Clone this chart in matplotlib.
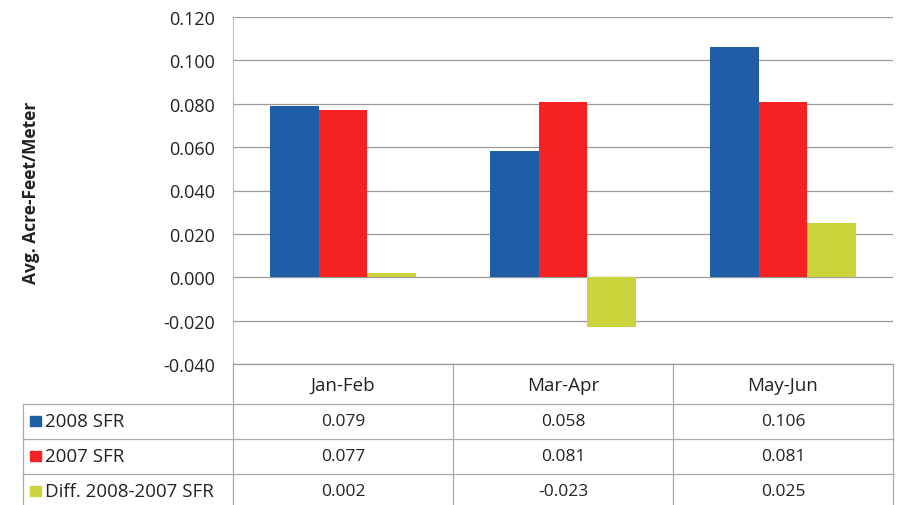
import matplotlib
matplotlib.use("Agg")
import matplotlib.pyplot as plt
import matplotlib.transforms as mtransforms
import numpy as np

categories = ["Jan-Feb", "Mar-Apr", "May-Jun"]
series_names = ["2008 SFR", "2007 SFR", "Diff. 2008-2007 SFR"]
s2008 = [0.079, 0.058, 0.106]
s2007 = [0.077, 0.081, 0.081]
sdiff = [0.002, -0.023, 0.025]
table_text = [["0.079", "0.058", "0.106"],
              ["0.077", "0.081", "0.081"],
              ["0.002", "-0.023", "0.025"]]
colors = ["#1F5EA6", "#F42222", "#CBD33C"]
yticks = [-0.04, -0.02, 0.0, 0.02, 0.04, 0.06, 0.08, 0.10, 0.12]

plt.rcParams['font.family'] = ['Open Sans', 'DejaVu Sans']

W, H = 899, 506
fig = plt.figure(figsize=(W / 100, H / 100), dpi=100)
ax = fig.add_axes([233 / W, 1 - 365 / H, 660 / W, 347 / H])

x = np.arange(len(categories))
bw = 0.22
for i, vals in enumerate([s2008, s2007, sdiff]):
    ax.bar(x + (i - 1) * bw, vals, bw, color=colors[i], zorder=3, label=series_names[i])

ax.set_xlim(-0.5, len(categories) - 0.5)
ax.set_ylim(-0.04, 0.12)
ax.set_yticks(yticks)
ax.set_yticklabels([f"{v:.3f}" for v in yticks], fontsize=13, color="#222222")
ax.tick_params(axis='y', length=0, pad=13)
ax.set_xticks([])
ax.grid(axis='y', color="#9a9a9a", linewidth=0.9, zorder=0)
ax.set_axisbelow(True)
for s in ["top", "right"]:
    ax.spines[s].set_visible(False)
ax.spines["left"].set_color("#bbbbbb")
ax.spines["bottom"].set_color("#9a9a9a")
ax.spines["bottom"].set_linewidth(0.9)

fig.text(31 / W, 1 - 193 / H, "Avg. Acre-Feet/Meter", rotation=90, ha="center",
         va="center", fontsize=12.5, fontweight="bold", color="#222222")

trans = mtransforms.blended_transform_factory(ax.transData, fig.transFigure)
line_kw = dict(color="#aaaaaa", linewidth=0.9, clip_on=False)
fy = lambda py: 1 - py / H

for b in np.arange(-0.5, len(categories), 1.0):
    ax.plot([b, b], [fy(365), fy(506)], transform=trans, **line_kw)
xl_left = 23
for py in [405, 440, 475]:
    fig.add_artist(plt.Line2D([xl_left / W, 893 / W], [fy(py), fy(py)],
                              color="#aaaaaa", linewidth=0.9))
fig.add_artist(plt.Line2D([xl_left / W, xl_left / W], [fy(405), fy(506)],
                          color="#aaaaaa", linewidth=0.9))

for j, c in enumerate(categories):
    ax.text(j, fy(386), c, transform=trans, ha="center", va="center",
            fontsize=13.5, color="#222222")

row_centers = [422, 457, 492]
for i, name in enumerate(series_names):
    yc = fy(row_centers[i])
    fig.patches.append(plt.Rectangle((30 / W, yc - 5 / H), 11 / W, 10 / H,
                                     color=colors[i], transform=fig.transFigure,
                                     figure=fig))
    fig.text(45 / W, yc, name, ha="left", va="center", fontsize=13.5, color="#222222")
    for j in range(len(categories)):
        ax.text(j, yc, table_text[i][j], transform=trans, ha="center", va="center",
                fontsize=12.5, color="#222222")

fig.savefig("out.png", dpi=100)
